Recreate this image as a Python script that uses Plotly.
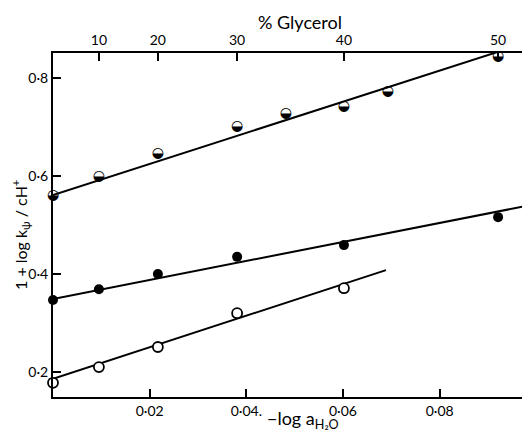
import plotly.graph_objects as go

# ---- data ----
x_all = [0.0, 0.0095, 0.0217, 0.0381, 0.0482, 0.0602, 0.0693, 0.0921]
y_half = [0.560, 0.600, 0.645, 0.700, 0.727, 0.742, 0.772, 0.843]

x_filled = [0.0, 0.0095, 0.0217, 0.0381, 0.0602, 0.0921]
y_filled = [0.347, 0.369, 0.400, 0.435, 0.459, 0.516]

x_open = [0.0, 0.0095, 0.0217, 0.0381, 0.0602]
y_open = [0.178, 0.210, 0.251, 0.320, 0.371]

# fitted lines (end points)
fit_half_x = [0.0, 0.0970]
fit_half_y = [0.561, 0.869]
fit_filled_x = [0.0, 0.0985]
fit_filled_y = [0.349, 0.540]
fit_open_x = [0.0, 0.0689]
fit_open_y = [0.186, 0.408]

x_ticks = [0.02, 0.04, 0.06, 0.08]
x_ticktext = ["0·02", "0·04.", "0·06", "0·08"]
y_ticks = [0.2, 0.4, 0.6, 0.8]
y_ticktext = ["0·2", "0·4", "0·6", "0·8"]
glycerol_pos = [0.0095, 0.0217, 0.0381, 0.0602, 0.0921]
glycerol_text = ["10", "20", "30", "40", "50"]

X_RANGE = [0.0, 0.0987]
Y_RANGE = [0.149, 0.851]
FONT = "Lato"

# page has an 8px body margin; size the figure so the plot lands where the reference has it
OFF = 8
W, H = 530 - OFF, 433 - OFF
ML, MR, MT, MB = 45, 0, 45, 36
PW, PH = W - ML - MR, H - MT - MB

fig = go.Figure()
line_style = dict(color="black", width=2)
for fx, fy in [(fit_half_x, fit_half_y), (fit_filled_x, fit_filled_y), (fit_open_x, fit_open_y)]:
    fig.add_trace(go.Scatter(x=fx, y=fy, mode="lines", line=line_style,
                             showlegend=False, hoverinfo="skip"))

fig.add_trace(go.Scatter(x=x_filled, y=y_filled, mode="markers",
                         marker=dict(symbol="circle", size=10, color="black"),
                         cliponaxis=False, showlegend=False))
fig.add_trace(go.Scatter(x=x_open, y=y_open, mode="markers",
                         marker=dict(symbol="circle", size=10, color="white",
                                     line=dict(color="black", width=1.8)),
                         cliponaxis=False, showlegend=False))
fig.add_trace(go.Scatter(x=x_all, y=y_half, mode="text", text=["◒"] * len(x_all),
                         textposition="middle center",
                         textfont=dict(family="DejaVu Sans", size=14, color="black"),
                         cliponaxis=False, showlegend=False, xaxis="x2"))

axis_common = dict(showline=True, linecolor="black", linewidth=2, showgrid=False,
                   zeroline=False, ticks="inside", ticklen=8, tickwidth=1.5,
                   tickcolor="black",
                   tickfont=dict(family=FONT, size=14, color="black"))


def ann(text, xw, yw, size, angle=0):
    return dict(text=text, x=(xw - OFF - ML) / PW, y=(H - (yw - OFF) - MB) / PH,
                xref="paper", yref="paper", xanchor="center", yanchor="middle",
                showarrow=False, textangle=angle,
                font=dict(family=FONT, size=size, color="black"))


fig.update_layout(
    width=W, height=H,
    margin=dict(l=ML, r=MR, t=MT, b=MB),
    paper_bgcolor="white", plot_bgcolor="white",
    xaxis=dict(range=X_RANGE, tickvals=x_ticks, ticktext=x_ticktext, **axis_common),
    xaxis2=dict(range=X_RANGE, tickvals=glycerol_pos, ticktext=glycerol_text,
                overlaying="x", side="top", anchor="y", **axis_common),
    yaxis=dict(range=Y_RANGE, tickvals=y_ticks, ticktext=y_ticktext, **axis_common),
    annotations=[
        ann("% Glycerol", 300, 22, 18),
        ann("−log a<sub>H₂O</sub>", 303, 420, 18),
        ann("1 + log k<sub>ψ</sub> / cH<sup>+</sup>", 20, 235, 16, -90),
    ],
)

fig.write_html("out.html")
